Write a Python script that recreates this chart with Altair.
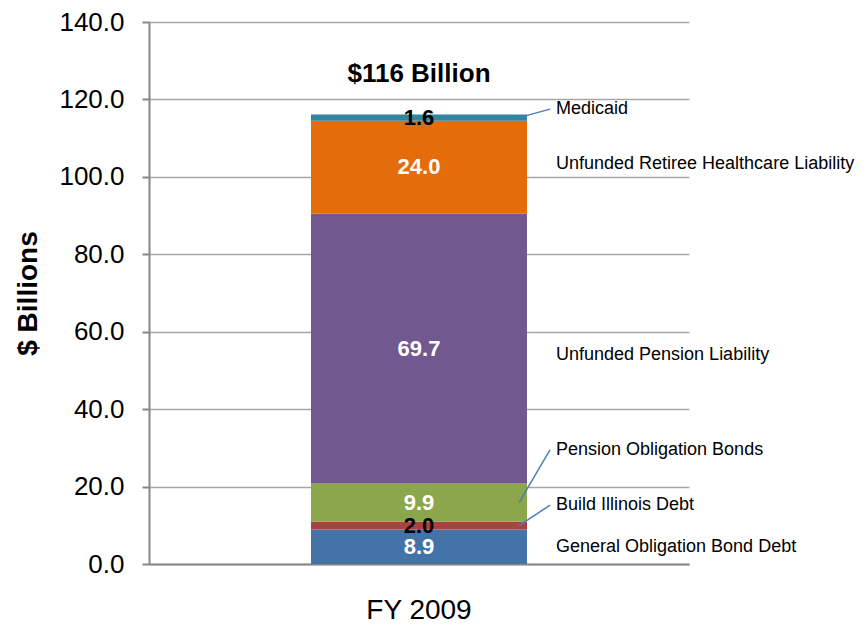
import altair as alt
import pandas as pd

# ---- data ----
year = "FY 2009"
categories = [
    "General Obligation  Bond Debt",
    "Build Illinois Debt",
    "Pension Obligation Bonds",
    "Unfunded Pension Liability",
    "Unfunded Retiree Healthcare Liability",
    "Medicaid",
]
values = [8.9, 2.0, 9.9, 69.7, 24.0, 1.6]
value_labels = ["8.9", "2.0", "9.9", "69.7", "24.0", "1.6"]
total_label = "$116 Billion"
y_ticks = [0, 20, 40, 60, 80, 100, 120, 140]

# ---- styling ----
colors = ["#4473A8", "#A94343", "#8BA64B", "#71588F", "#E46C0A", "#31859C"]
value_label_colors = ["white", "black", "white", "white", "white", "black"]
# label offsets (in data units) relative to segment centre, for the right-hand annotations
label_offsets = [0.0, 5.3, 13.6, -1.6, 0.7, 2.2]
leader = [False, True, True, False, False, True]

y0, y1 = [], []
acc = 0.0
for v in values:
    y0.append(acc)
    acc += v
    y1.append(acc)

df = pd.DataFrame({
    "year": [year] * len(values),
    "category": categories,
    "value": values,
    "vlabel": value_labels,
    "vcolor": value_label_colors,
    "y0": y0,
    "y1": y1,
})
df["mid"] = (df["y0"] + df["y1"]) / 2
df["label_y"] = df["mid"] + pd.Series(label_offsets)
df["leader"] = leader

total_df = pd.DataFrame({"year": [year], "total": [acc], "label": [total_label]})

FONT = "Liberation Sans"
GRID = "#A6A6A6"
AXIS = "#878787"

xenc = alt.X(
    "year:N",
    title=None,
    axis=alt.Axis(
        labelAngle=0, labelFontSize=28, labelFont=FONT, labelColor="black",
        ticks=False, domainColor=AXIS, domainWidth=2, labelPadding=32,
    ),
)

bars = alt.Chart(df).mark_bar(width=216).encode(
    x=xenc,
    y=alt.Y(
        "y0:Q",
        title="$ Billions",
        scale=alt.Scale(domain=[0, 140], nice=False),
        axis=alt.Axis(
            values=y_ticks, format=".1f", labelFontSize=26, labelFont=FONT,
            labelColor="black", tickSize=7, tickColor=AXIS, tickWidth=2,
            domainColor=AXIS, domainWidth=2, gridColor=GRID, gridWidth=1.5,
            labelPadding=18, titleFont=FONT, titleFontSize=28,
            titleFontWeight="bold", titleColor="black", titlePadding=16,
        ),
    ),
    y2="y1:Q",
    color=alt.Color("category:N", scale=alt.Scale(domain=categories, range=colors), legend=None),
)

value_text = alt.Chart(df).mark_text(
    font=FONT, fontSize=22, fontWeight="bold", baseline="middle", align="center"
).encode(
    x="year:N",
    y="mid:Q",
    text="vlabel:N",
    color=alt.Color("vcolor:N", scale=None),
)

title_text = alt.Chart(total_df).mark_text(
    font=FONT, fontSize=26, fontWeight="bold", baseline="middle", align="center", dy=-41, color="black"
).encode(
    x="year:N",
    y="total:Q",
    text="label:N",
)

leaders = alt.Chart(df).transform_filter("datum.leader").mark_rule(
    color="#4A7EBB", strokeWidth=1.5
).encode(
    x=alt.value(370),
    x2=alt.value(401),
    y="mid:Q",
    y2="label_y:Q",
)

side_text = alt.Chart(df).mark_text(
    font=FONT, fontSize=18, align="left", baseline="middle", color="black"
).encode(
    x=alt.value(407),
    y="label_y:Q",
    text="category:N",
)

chart = alt.layer(bars, value_text, title_text, leaders, side_text).properties(
    width=540,
    height=542,
    padding={"left": 6, "top": 1, "right": 0, "bottom": 0},
).configure_view(stroke=None).configure_axis(grid=True).configure_axisX(grid=False)

chart.save("out.html", embed_options={"renderer": "svg", "actions": False})
